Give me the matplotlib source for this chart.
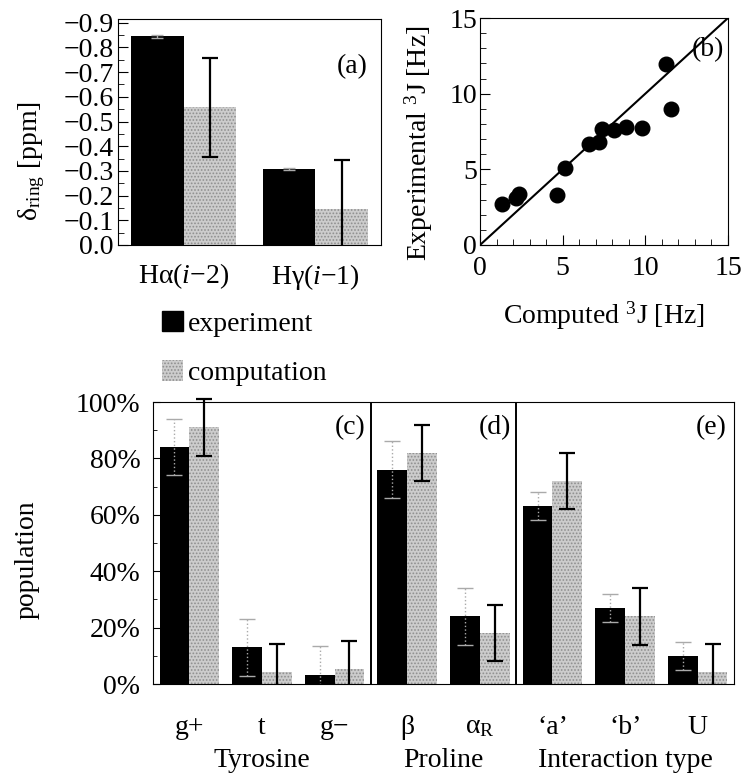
import numpy as np
import matplotlib
matplotlib.use('Agg')
import matplotlib.pyplot as plt
from matplotlib.patches import Patch, Rectangle
from matplotlib.ticker import MultipleLocator

plt.rcParams['font.family'] = ['Liberation Serif', 'DejaVu Serif']
plt.rcParams['mathtext.fontset'] = 'custom'
plt.rcParams['mathtext.rm'] = 'Liberation Serif'
plt.rcParams['mathtext.it'] = 'Liberation Serif:italic'
plt.rcParams['font.size'] = 20
plt.rcParams['hatch.linewidth'] = 0.8

# panel (a): ring current shifts
ring_labels = ['H\u03b1($\\mathit{i}$\u22122)', 'H\u03b3($\\mathit{i}$\u22121)']
ring_exp = [-0.845, -0.307]
ring_exp_err = [0.005, 0.004]
ring_comp = [-0.557, -0.145]
ring_comp_err = [0.2, 0.2]

# panel (b): 3J couplings (computed, experimental)
j_comp = [1.31, 2.18, 2.38, 4.64, 5.14, 6.61, 7.22, 7.36, 8.13, 8.83, 9.82, 11.27, 11.55]
j_exp = [2.71, 3.09, 3.35, 3.30, 5.11, 6.67, 6.79, 7.67, 7.60, 7.82, 7.71, 11.96, 8.99]

# panels (c)-(e): populations in %
pop_labels = ['g+', 't', 'g\u2212', '\u03b2', '\u03b1$_{\\mathrm{R}}$', '\u2018a\u2019', '\u2018b\u2019', 'U']
pop_exp = [84, 13, 3.3, 76, 24, 63, 27, 10]
pop_exp_err = [10, 10, 10, 10, 10, 5, 5, 5]
pop_comp = [91, 4.2, 5.4, 82, 18, 72, 24, 4.2]
pop_comp_err = [10, 10, 10, 10, 10, 10, 10, 10]
group_names = ['Tyrosine', 'Proline', 'Interaction type']
group_centers = [1.5, 4.0, 6.5]

W, H = 744, 773
comp_face = '#cccccc'
comp_hatch = '#8f8f8f'


def box(l, t, r, b):
    return [l / W, 1 - b / H, (r - l) / W, (b - t) / H]


fig = plt.figure(figsize=(W / 100, H / 100), dpi=100)

# ---- (a)
ax = fig.add_axes(box(118, 19, 381, 245))
x = np.arange(len(ring_labels)) + 0.5
bw = 0.4
ax.bar(x - bw / 2, ring_exp, bw, color='black', zorder=2)
ax.bar(x + bw / 2, ring_comp, bw, facecolor=comp_face, edgecolor=comp_hatch,
       hatch='.....', linewidth=0, zorder=2)
ax.errorbar(x - bw / 2, ring_exp, yerr=ring_exp_err, fmt='none', ecolor='#aaaaaa',
            elinewidth=1, capsize=4, capthick=1, zorder=3)
ax.errorbar(x + bw / 2, ring_comp, yerr=ring_comp_err, fmt='none', ecolor='black',
            elinewidth=1.6, capsize=6, capthick=1.6, zorder=3)
ax.set_xlim(0, 2)
ax.set_ylim(0, -0.915)
ax.set_yticks(np.arange(0, -0.95, -0.1))
ax.set_yticklabels(['0.0'] + ['\u2212%.1f' % v for v in np.arange(0.1, 0.95, 0.1)])
ax.yaxis.set_minor_locator(MultipleLocator(0.05))
ax.tick_params(axis='y', which='both', direction='in', pad=3)
ax.tick_params(axis='y', which='major', length=7)
ax.tick_params(axis='y', which='minor', length=4)
ax.set_xticks(x)
ax.set_xticklabels(ring_labels)
ax.tick_params(axis='x', length=0, pad=12)
ax.set_ylabel('\u03b4$_{\\mathrm{ring}}$ [ppm]')
ax.yaxis.set_label_coords(-0.27, 0.37)
ax.text(0.95, 0.79, '(a)', transform=ax.transAxes, ha='right', va='center')
for s in ax.spines.values():
    s.set_linewidth(0.8)

# ---- (b)
ax = fig.add_axes(box(480, 18, 728, 245))
ax.plot([0, 15], [0, 15], color='black', lw=1.5, zorder=2)
ax.plot(j_comp, j_exp, 'o', color='black', markersize=10.5, zorder=3, clip_on=False)
ax.set_xlim(0, 15)
ax.set_ylim(0, 15)
ax.set_xticks([0, 5, 10, 15])
ax.set_yticks([0, 5, 10, 15])
ax.xaxis.set_minor_locator(MultipleLocator(1))
ax.yaxis.set_minor_locator(MultipleLocator(1))
ax.tick_params(which='both', direction='in')
ax.tick_params(which='major', length=7)
ax.tick_params(which='minor', length=4)
ax.tick_params(axis='x', pad=8)
ax.tick_params(axis='y', pad=2)
ax.set_xlabel('Computed $^{3}$J [Hz]', labelpad=13)
ax.set_ylabel('Experimental $^{3}$J [Hz]')
ax.yaxis.set_label_coords(-0.18, 0.45)
ax.text(0.985, 0.86, '(b)', transform=ax.transAxes, ha='right', va='center')
for s in ax.spines.values():
    s.set_linewidth(0.8)

# ---- legend
handles = [Patch(facecolor='black', edgecolor='black'),
           Patch(facecolor=comp_face, edgecolor=comp_hatch, hatch='.....', linewidth=0)]
fig.legend(handles, ['experiment', 'computation'], loc='upper left',
           bbox_to_anchor=(162 / W, 1 - 311 / H), frameon=False,
           handlelength=0.75, handleheight=0.75, handletextpad=0.18,
           labelspacing=0.85, borderaxespad=0, borderpad=0)

# ---- (c)-(e)
ax = fig.add_axes(box(153, 402, 734, 684))
x = np.arange(len(pop_labels)) + 0.5
bw = 0.41
ax.bar(x - bw / 2, pop_exp, bw, color='black', zorder=2)
ax.bar(x + bw / 2, pop_comp, bw, facecolor=comp_face, edgecolor=comp_hatch,
       hatch='.....', linewidth=0, zorder=2)
clip = Rectangle((0, 0), 1, 1.2, transform=ax.transAxes)
eb1 = ax.errorbar(x - bw / 2, pop_exp, yerr=pop_exp_err, fmt='none', ecolor='#aaaaaa',
                  elinewidth=1, capsize=6, capthick=1, zorder=3)
eb2 = ax.errorbar(x + bw / 2, pop_comp, yerr=pop_comp_err, fmt='none', ecolor='black',
                  elinewidth=1.6, capsize=6, capthick=1.6, zorder=3)
for eb in (eb1, eb2):
    for art in list(eb.lines[1]) + list(eb.lines[2]):
        art.set_clip_path(clip)
for c in eb1.lines[2]:
    c.set_linestyle(':')
ax.axvline(3, color='black', lw=1.4, zorder=4)
ax.axvline(5, color='black', lw=1.4, zorder=4)
ax.set_xlim(0, 8)
ax.set_ylim(0, 100)
ax.set_yticks(np.arange(0, 101, 20))
ax.set_yticklabels(['%d%%' % v for v in range(0, 101, 20)])
ax.yaxis.set_minor_locator(MultipleLocator(10))
ax.tick_params(axis='y', which='both', direction='in', pad=9)
ax.tick_params(axis='y', which='major', length=5)
ax.tick_params(axis='y', which='minor', length=3)
ax.set_xticks(x)
ax.set_xticklabels(pop_labels)
ax.tick_params(axis='x', length=0, pad=22)
for gx, name in zip(group_centers, group_names):
    ax.text(gx, -0.27, name, transform=ax.get_xaxis_transform(), ha='center', va='center')
ax.set_ylabel('population')
ax.yaxis.set_label_coords(-0.195, 0.44)
ax.text(2.93, 91, '(c)', ha='right', va='center')
ax.text(4.93, 91, '(d)', ha='right', va='center')
ax.text(7.9, 91, '(e)', ha='right', va='center')
for s in ax.spines.values():
    s.set_linewidth(0.8)

fig.savefig('out.png', dpi=100)
